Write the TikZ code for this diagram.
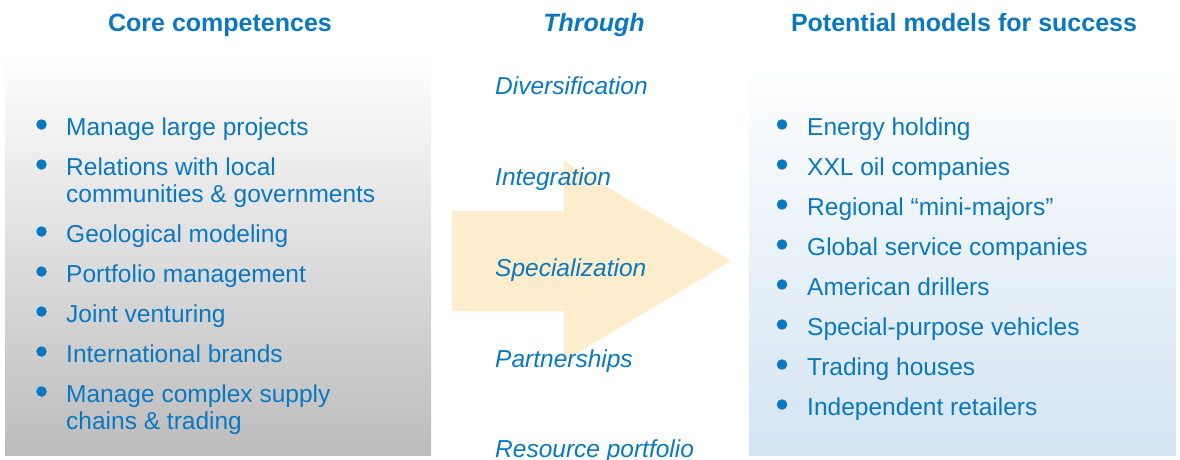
\documentclass[tikz,border=0pt]{standalone}
\usepackage{fontspec}
\setmainfont{Liberation Sans}
\definecolor{txtblue}{RGB}{10,120,192}
\definecolor{arrowfill}{RGB}{254,237,204}
\definecolor{boxgray}{RGB}{188,188,188}
\definecolor{boxblue}{RGB}{211,228,242}
\tikzset{
  header/.style={anchor=base, inner sep=0pt, text=txtblue, font=\fontsize{25}{28}\selectfont\bfseries},
  itemtext/.style={anchor=base west, inner sep=0pt, text=txtblue, align=left, font=\fontsize{24.5}{27}\selectfont},
  viatext/.style={anchor=base west, inner sep=0pt, text=txtblue, font=\fontsize{24.5}{27}\selectfont\itshape},
  bulletdot/.style={circle, fill=txtblue, inner sep=0pt, minimum size=10.5pt},
}
\begin{document}
\begin{tikzpicture}[x=1pt, y=-1pt]
\useasboundingbox (0,0) rectangle (1180,460);
% boxes
\shade[top color=white, bottom color=boxgray] (5,53) rectangle (431,455);
\shade[top color=white, bottom color=boxblue] (749,58) rectangle (1176,455);
% arrow
\fill[arrowfill] (452,211) -- (564,211) -- (564,161) -- (731,261) -- (564,361) -- (564,311) -- (452,311) -- cycle;
% headers
\node[header] (h1) at (220,32) {Core competences};
\node[header] (h2) at (594,32) {\itshape Through};
\node[header] (h3) at (964,32) {Potential models for success};
% left items (\b = bullet line baseline, \y = last line baseline)
\foreach \n/\b/\y/\t in {l1/135/135/{Manage large projects},
  l2/175/202/{Relations with local\\communities \& governments},
  l3/242/242/{Geological modeling},
  l4/282/282/{Portfolio management},
  l5/322/322/{Joint venturing},
  l6/362/362/{International brands},
  l7/402/429/{Manage complex supply\\chains \& trading}}{
  \node[bulletdot] (\n b) at (41.5,\b-10.5) {};
  \node[itemtext] (\n) at (66,\y) {\t};
}
% middle items
\node[viatext] (m1) at (495,94) {Diversification};
\node[viatext] (m2) at (495,185) {Integration};
\node[viatext] (m3) at (495,276) {Specialization};
\node[viatext] (m4) at (495,367) {Partnerships};
\node[viatext] (m5) at (495,457) {Resource portfolio};
% right items
\foreach \n/\y/\t in {r1/135/{Energy holding},
  r2/175/{XXL oil companies},
  r3/215/{Regional “mini-majors”},
  r4/255/{Global service companies},
  r5/295/{American drillers},
  r6/335/{Special-purpose vehicles},
  r7/375/{Trading houses},
  r8/415/{Independent retailers}}{
  \node[bulletdot] (\n b) at (782,\y-10.5) {};
  \node[itemtext] (\n) at (807,\y) {\t};
}
\end{tikzpicture}
\end{document}
